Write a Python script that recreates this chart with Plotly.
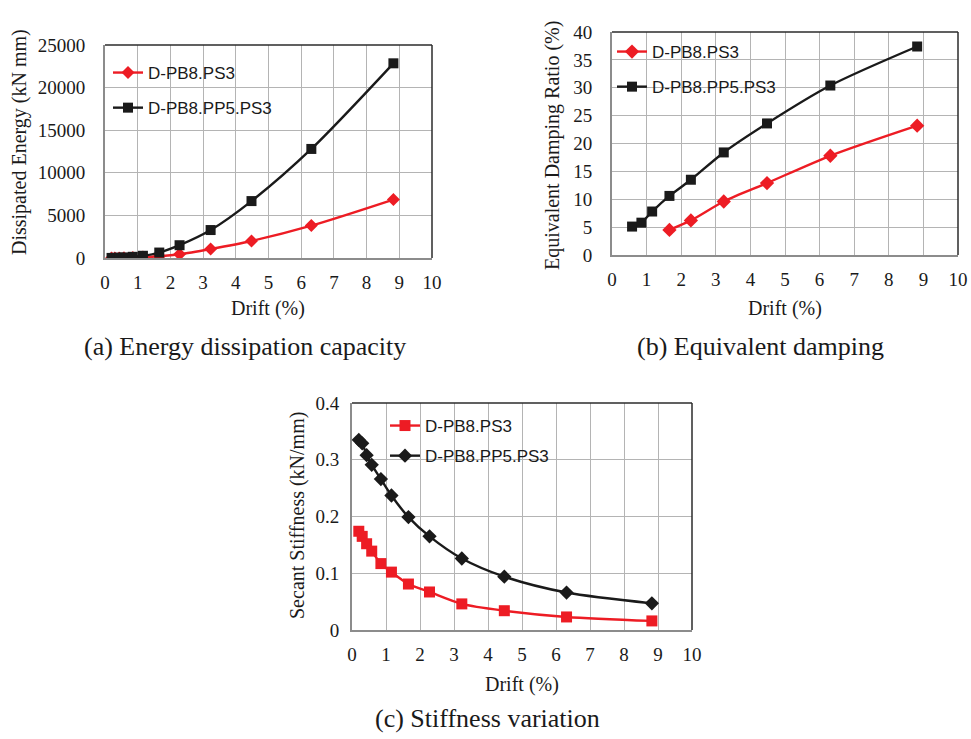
import plotly.graph_objects as go

# Drift levels (%) shared by all three panels
drift = [0.2, 0.3, 0.43, 0.58, 0.85, 1.16, 1.66, 2.28, 3.23, 4.48, 6.31, 8.82]

# (a) Dissipated energy (kN mm)
energy_ps3 = [2, 5, 12, 25, 55, 110, 210, 440, 1060, 2000, 3800, 6860]
energy_pp5 = [10, 20, 40, 70, 140, 260, 640, 1500, 3280, 6680, 12800, 22850]

# (b) Equivalent damping ratio (%)
damp_ps3_drift = [1.66, 2.28, 3.23, 4.48, 6.31, 8.82]
damp_ps3 = [4.5, 6.2, 9.6, 12.9, 17.8, 23.2]
damp_pp5_drift = [0.58, 0.85, 1.16, 1.66, 2.28, 3.23, 4.48, 6.31, 8.82]
damp_pp5 = [5.1, 5.8, 7.8, 10.6, 13.5, 18.4, 23.6, 30.4, 37.4]

# (c) Secant stiffness (kN/mm)
stiff_ps3 = [0.174, 0.165, 0.152, 0.139, 0.117, 0.102, 0.081, 0.067, 0.046, 0.034, 0.023, 0.016]
stiff_pp5 = [0.335, 0.329, 0.308, 0.291, 0.266, 0.237, 0.199, 0.165, 0.126, 0.094, 0.066, 0.047]

name_ps3 = "D-PB8.PS3"
name_pp5 = "D-PB8.PP5.PS3"

RED = "#ED1C24"
BLACK = "#1A1A1A"
GRID = "#B4B4B4"
AXIS_GRAY = "#8C8C8C"
FRAME = "#2B2B2B"
SERIF = "Liberation Serif"
SANS = "Liberation Sans"

W, H = 971, 739


def px_x(x):
    return x / W


def px_y(y):
    return 1 - y / H


fig = go.Figure()


def add_series(x, y, name, color, symbol, size, xa, ya, legend, group):
    fig.add_trace(go.Scatter(
        x=x, y=y, name=name, mode="lines+markers",
        line=dict(color=color, width=2.4, shape="spline", smoothing=0.8),
        marker=dict(symbol=symbol, size=size, color=color),
        xaxis=xa, yaxis=ya, legend=legend, legendgroup=group,
    ))


# panel (a)
add_series(drift, energy_ps3, name_ps3, RED, "diamond", 10, "x", "y", "legend", "a1")
add_series(drift, energy_pp5, name_pp5, BLACK, "square", 10, "x", "y", "legend", "a2")
# panel (b)
add_series(damp_ps3_drift, damp_ps3, name_ps3, RED, "diamond", 11, "x2", "y2", "legend2", "b1")
add_series(damp_pp5_drift, damp_pp5, name_pp5, BLACK, "square", 10, "x2", "y2", "legend2", "b2")
# panel (c)
add_series(drift, stiff_ps3, name_ps3, RED, "square", 11, "x3", "y3", "legend3", "c1")
add_series(drift, stiff_pp5, name_pp5, BLACK, "diamond", 11, "x3", "y3", "legend3", "c2")

# plot areas in pixels: (left, right, top, bottom)
boxes = {
    "1": (105, 432, 45, 258),
    "2": (612, 958, 32, 255),
    "3": (352, 692, 403, 630),
}
yranges = {"1": [0, 25000], "2": [0, 40], "3": [0, 0.4]}
ydticks = {"1": 5000, "2": 5, "3": 0.1}
yformats = {"1": "d", "2": "d", "3": ""}
yticklens = {"1": 14, "2": 14, "3": 7}

layout = dict(
    width=W, height=H,
    margin=dict(l=0, r=0, t=0, b=0, autoexpand=False),
    paper_bgcolor="white", plot_bgcolor="white",
    font=dict(family=SERIF, size=19, color="#1A1A1A"),
    showlegend=True,
)

tickfont = dict(family=SERIF, size=19, color="#1A1A1A")
for k, (l, r, t, b) in boxes.items():
    xk = "xaxis" if k == "1" else f"xaxis{k}"
    yk = "yaxis" if k == "1" else f"yaxis{k}"
    ya_ref = "y" if k == "1" else f"y{k}"
    xa_ref = "x" if k == "1" else f"x{k}"
    layout[xk] = dict(
        domain=[px_x(l), px_x(r)], anchor=ya_ref, range=[0, 10], dtick=1,
        showgrid=True, gridcolor=GRID, gridwidth=1.3, zeroline=False,
        showline=True, linecolor=AXIS_GRAY, linewidth=2, automargin=False,
        ticks="outside", ticklen=6, tickcolor="rgba(0,0,0,0)",
        tickfont=dict(tickfont), fixedrange=True,
    )
    layout[yk] = dict(
        domain=[px_y(b), px_y(t)], anchor=xa_ref, range=yranges[k], dtick=ydticks[k],
        tickformat=yformats[k],
        showgrid=True, gridcolor=GRID, gridwidth=1.3, zeroline=False,
        showline=True, linecolor=AXIS_GRAY, linewidth=2, automargin=False,
        ticks="outside", ticklen=yticklens[k], tickcolor="rgba(0,0,0,0)",
        tickfont=dict(tickfont), fixedrange=True,
    )

# dark frame on the top and right edges of each plot area
shapes = []
for k in boxes:
    xr = "x" if k == "1" else f"x{k}"
    yr = "y" if k == "1" else f"y{k}"
    shapes.append(dict(type="line", xref=f"{xr} domain", yref=f"{yr} domain",
                       x0=0, x1=1, y0=1, y1=1, line=dict(color=FRAME, width=1.5)))
    shapes.append(dict(type="line", xref=f"{xr} domain", yref=f"{yr} domain",
                       x0=1, x1=1, y0=0, y1=1, line=dict(color=FRAME, width=1.5)))
layout["shapes"] = shapes

legend_font = dict(family=SANS, size=17, color="#1A1A1A")
legend_common = dict(bgcolor="rgba(0,0,0,0)", font=legend_font, itemwidth=30,
                     xanchor="left", yanchor="top", tracegroupgap=10)
layout["legend"] = dict(x=px_x(108), y=px_y(55), **legend_common)
layout["legend2"] = dict(x=px_x(612), y=px_y(34), **legend_common)
layout["legend3"] = dict(x=px_x(385), y=px_y(408), **{**legend_common, "tracegroupgap": 5})

title_font = dict(family=SERIF, size=20, color="#1A1A1A")
cap_font = dict(family=SERIF, size=26, color="#1A1A1A")
ann = []


def text_at(x, y, s, font, angle=0):
    ann.append(dict(x=px_x(x), y=px_y(y), xref="paper", yref="paper", text=s,
                    showarrow=False, font=font, textangle=angle,
                    xanchor="center", yanchor="middle"))


# axis titles
text_at(268, 308, "Drift (%)", title_font)
text_at(785, 308, "Drift (%)", title_font)
text_at(522, 684, "Drift (%)", title_font)
text_at(19, 142, "Dissipated Energy (kN mm)", title_font, -90)
text_at(552, 146, "Equivalent Damping Ratio (%)", title_font, -90)
text_at(297, 516, "Secant Stiffness (kN/mm)", title_font, -90)
# panel captions
text_at(245, 346, "(a) Energy dissipation capacity", cap_font)
text_at(760, 346, "(b) Equivalent damping", cap_font)
text_at(488, 718, "(c) Stiffness variation", cap_font)
layout["annotations"] = ann

fig.update_layout(**layout)
fig.write_html("out.html")
